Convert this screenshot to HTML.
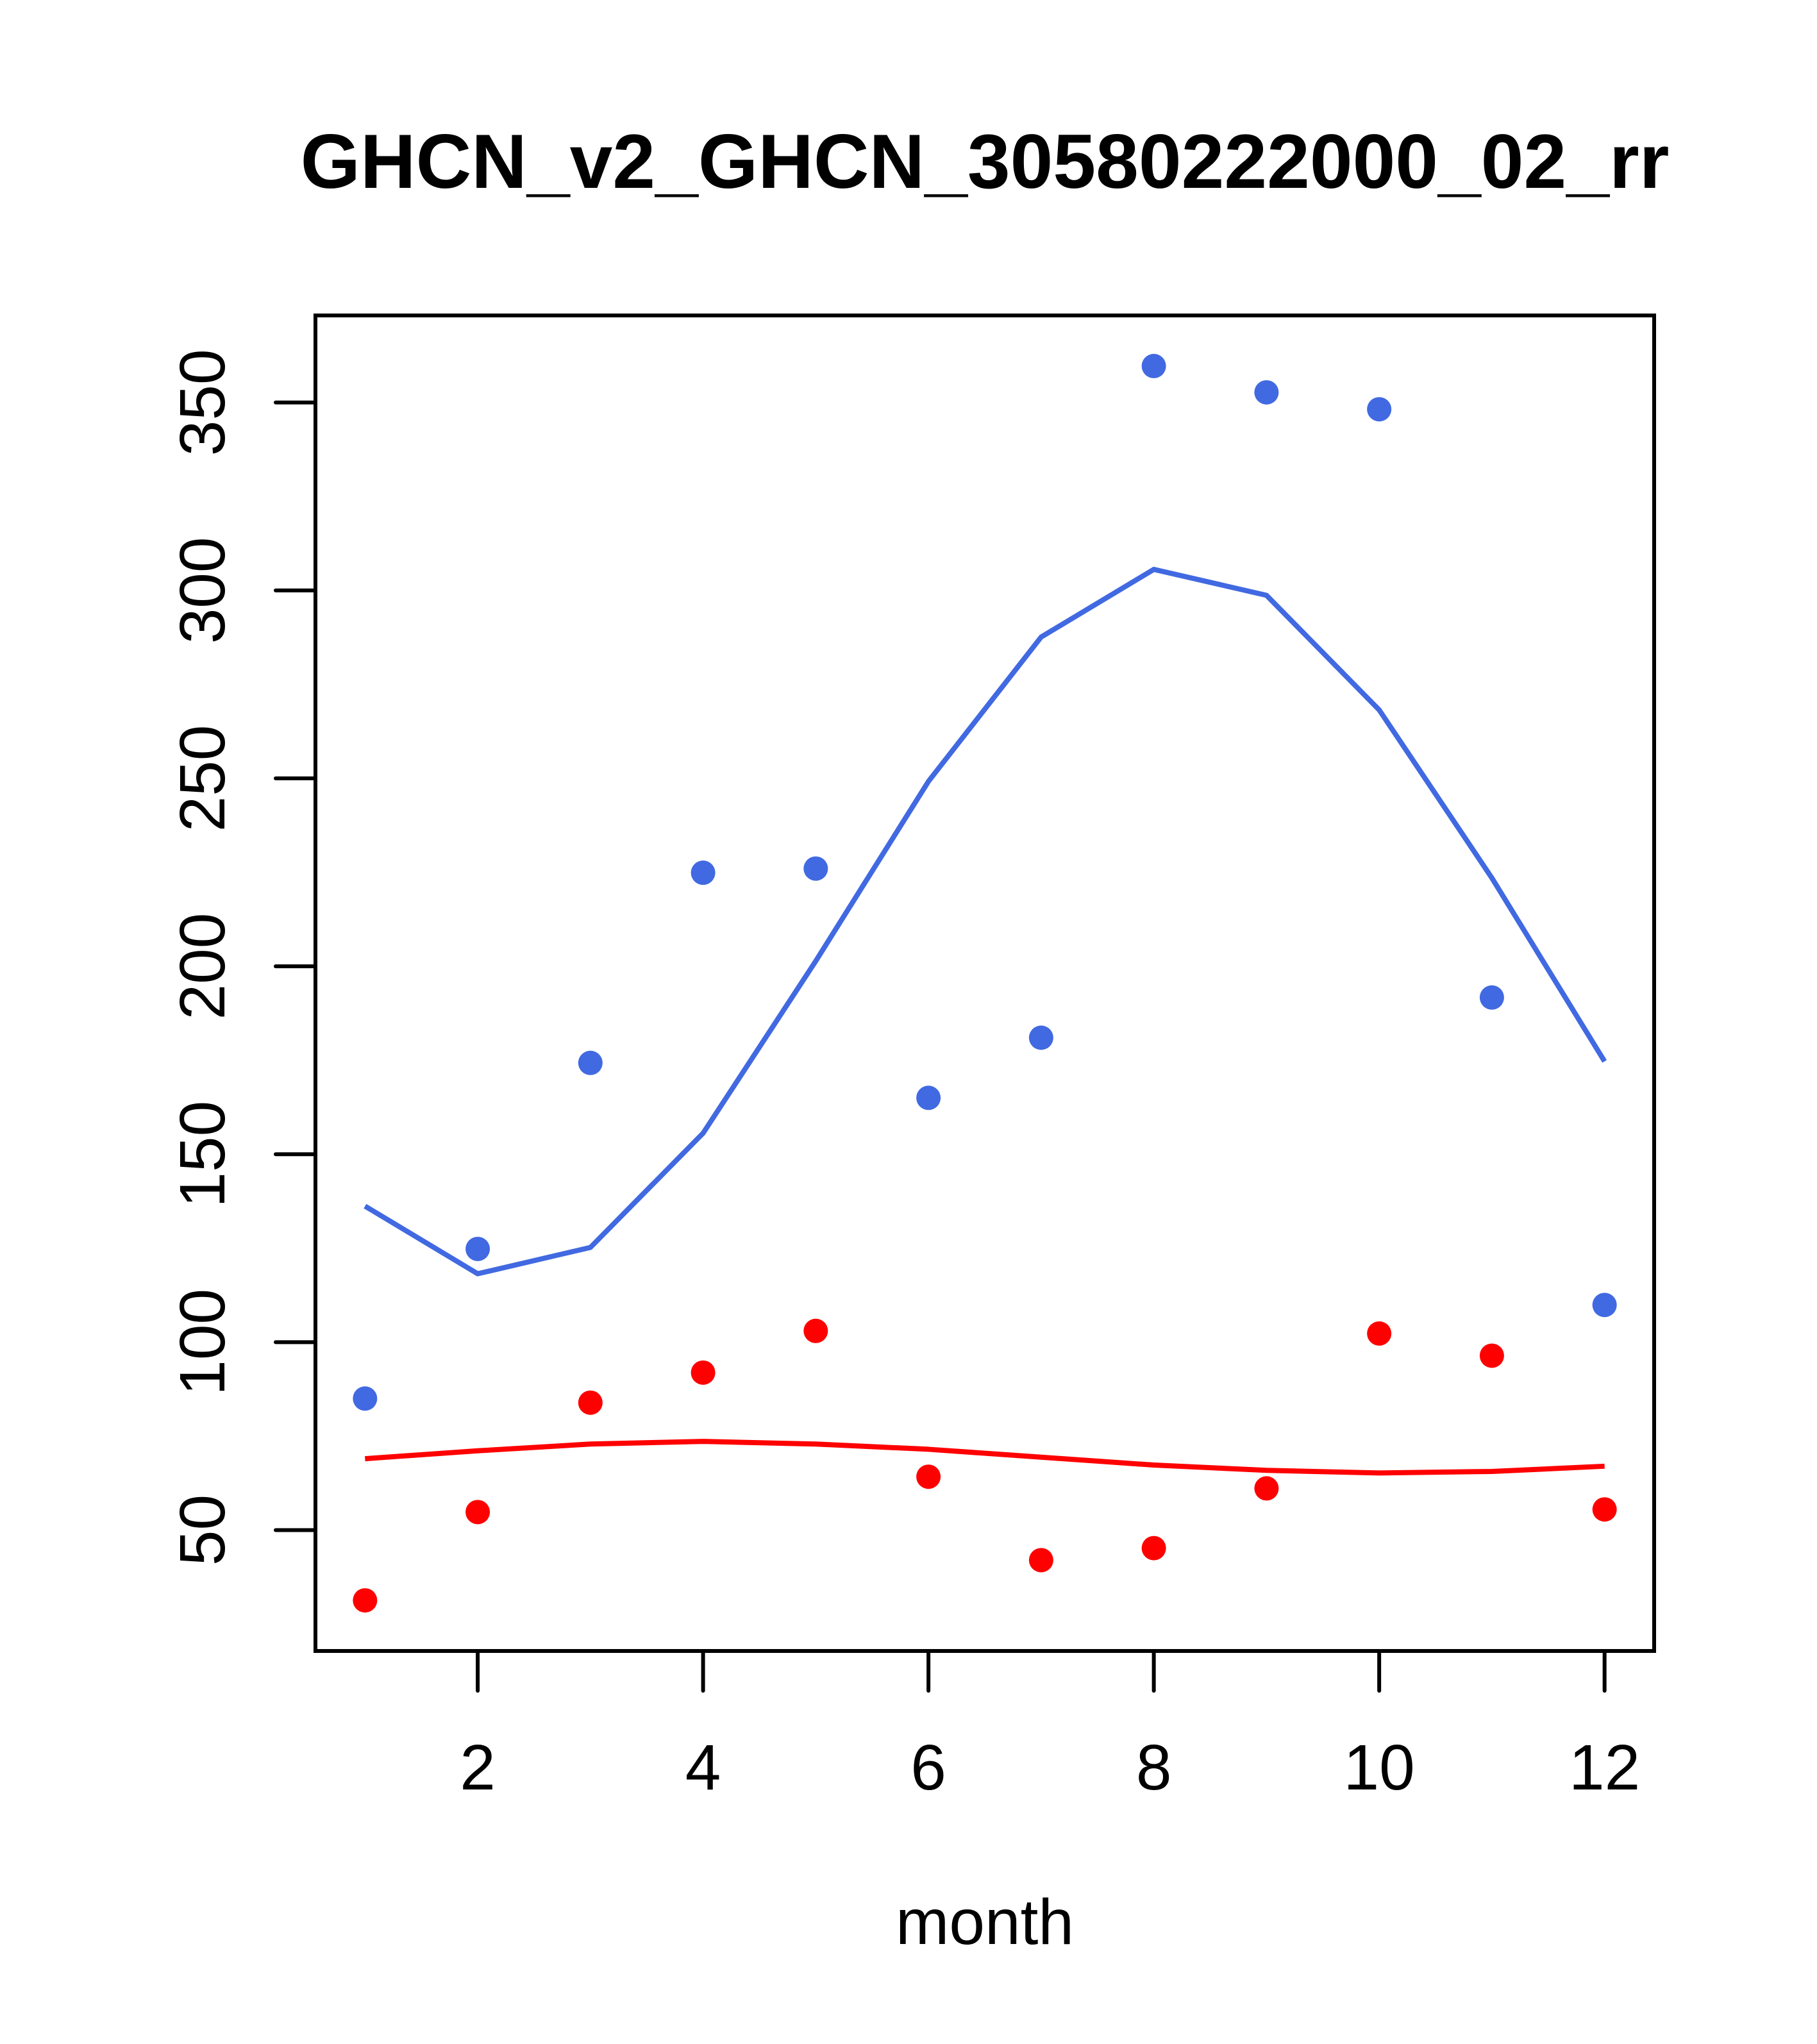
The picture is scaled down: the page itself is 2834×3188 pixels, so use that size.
<!DOCTYPE html>
<html><head><meta charset="utf-8"><style>
html,body{margin:0;padding:0;background:#fff;}
svg{display:block;font-family:"Liberation Sans",Arial,sans-serif;}
</style></head><body>
<svg id="chart" width="2834" height="3188" viewBox="0 0 2834 3188">
<rect width="2834" height="3188" fill="#fff"/>
<text x="1536" y="293" text-anchor="middle" font-size="120" font-weight="bold">GHCN_v2_GHCN_30580222000_02_rr</text>
<g id="marks"></g>
<rect x="492" y="492" width="2088" height="2083" fill="none" stroke="#000" stroke-width="6"/>
<g id="axes"></g>
<text x="1536" y="3032" text-anchor="middle" font-size="100">month</text>
</svg>
<script>
const months = [1,2,3,4,5,6,7,8,9,10,11,12];
const bluePoints = [85,124.8,174.3,224.9,226,165,181,359.7,352.7,348.2,191.7,109.9];
const blueLine = [136.2,118.2,125.2,155.6,201.4,249.2,287.6,305.6,298.7,268.2,223.5,174.7];
const redPoints = [31.3,54.8,83.9,91.9,103,64.2,42,45.2,61.1,102.3,96.4,55.5];
const redLine = [69,71.1,72.9,73.6,72.9,71.5,69.4,67.3,65.9,65.2,65.6,67];
const xTicks = [2,4,6,8,10,12];
const yTicks = [50,100,150,200,250,300,350];

const L=492,R=2580,T=492,B=2575;
const xMin=0.56,xMax=12.44,yMin=17.84,yMax=373.16;
const sx=v=>L+(v-xMin)/(xMax-xMin)*(R-L);
const sy=v=>B-(v-yMin)/(yMax-yMin)*(B-T);
const NS='http://www.w3.org/2000/svg';
const marks=document.getElementById('marks'), axes=document.getElementById('axes');
function mk(tag,attrs,parent){const e=document.createElementNS(NS,tag);for(const k in attrs)e.setAttribute(k,attrs[k]);parent.appendChild(e);return e;}

function line(vals,color,name){
  const p=mk('polyline',{points:vals.map((v,i)=>sx(months[i])+','+sy(v)).join(' '),fill:'none',stroke:color,'stroke-width':8,'stroke-linejoin':'round'},marks);
  
  
}
function pts(vals,color,name){
  vals.forEach((v,i)=>{
    const c=mk('circle',{cx:sx(months[i]),cy:sy(v),r:19,fill:color},marks);
    
    
  });
}
line(blueLine,'#4169E1','blue-line');
line(redLine,'#FF0000','red-line');
pts(bluePoints,'#4169E1','blue-point');
pts(redPoints,'#FF0000','red-point');

xTicks.forEach(t=>{
  const x=sx(t);
  const l=mk('line',{x1:x,y1:B,x2:x,y2:B+62,stroke:'#000','stroke-width':6,'stroke-linecap':'round'},axes);
  
  
  const tx=mk('text',{x:x,y:2791,'text-anchor':'middle','font-size':100},axes);
  tx.textContent=t;
  
  
});
yTicks.forEach(t=>{
  const y=sy(t);
  const l=mk('line',{x1:L-62,y1:y,x2:L,y2:y,stroke:'#000','stroke-width':6,'stroke-linecap':'round'},axes);
  
  
  const tx=mk('text',{x:0,y:0,'text-anchor':'middle','font-size':100,transform:'translate(350,'+y+') rotate(-90)'},axes);
  tx.textContent=t;
  
  
});
</script>
</body></html>
